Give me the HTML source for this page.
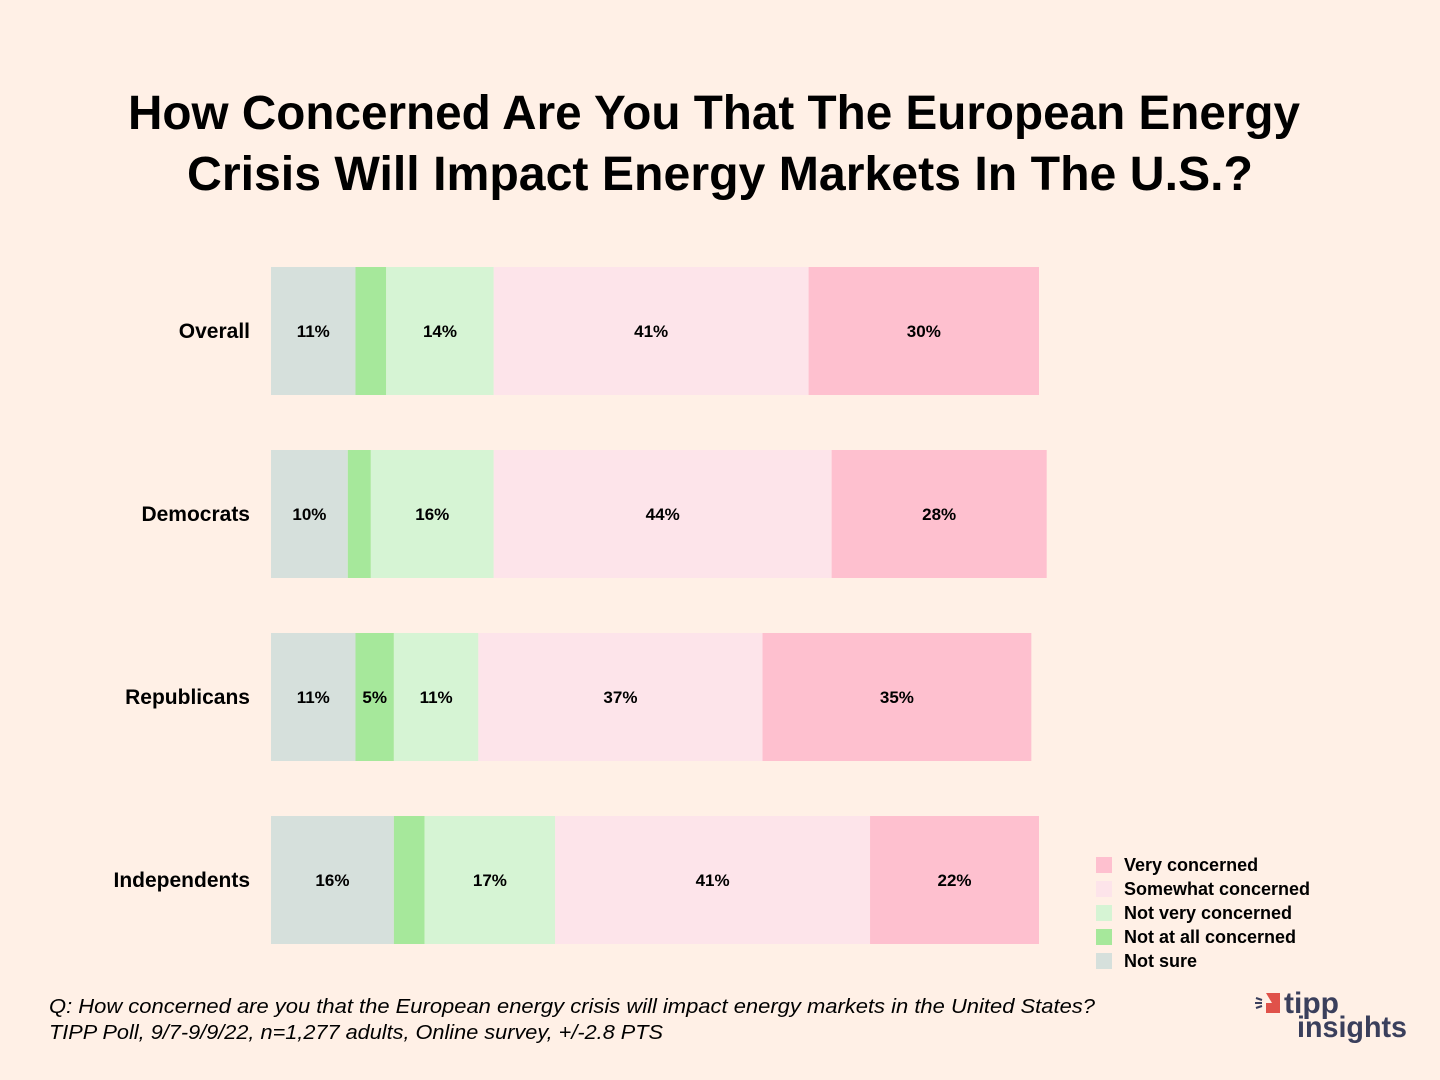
<!DOCTYPE html>
<html><head><meta charset="utf-8">
<style>
html,body{margin:0;padding:0;background:#fff0e6;}
svg{display:block;}
text{font-family:"Liberation Sans","DejaVu Sans",sans-serif;}
</style></head>
<body>
<svg id="chart" width="1440" height="1080" viewBox="0 0 1440 1080" xmlns="http://www.w3.org/2000/svg">
<rect width="1440" height="1080" fill="#fff0e6"/>
<text x="714" y="129" text-anchor="middle" font-size="48" font-weight="bold" textLength="1172" lengthAdjust="spacingAndGlyphs">How Concerned Are You That The European Energy</text>
<text x="720" y="190" text-anchor="middle" font-size="48" font-weight="bold" textLength="1066" lengthAdjust="spacingAndGlyphs">Crisis Will Impact Energy Markets In The U.S.?</text>
<g id="bars"></g>
<g id="legend"></g>
<text x="49" y="1013" font-size="20" font-style="italic" textLength="1046" lengthAdjust="spacingAndGlyphs">Q: How concerned are you that the European energy crisis will impact energy markets in the United States?</text>
<text x="49" y="1039" font-size="20" font-style="italic" textLength="614" lengthAdjust="spacingAndGlyphs">TIPP Poll, 9/7-9/9/22, n=1,277 adults, Online survey, +/-2.8 PTS</text>
<g>
  <rect x="1266" y="993" width="14" height="20" fill="#e0524a"/>
  <polygon points="1266,993 1272,1003 1266,1003" fill="#fff0e6"/>
  <line x1="1256" y1="998" x2="1262" y2="1000" stroke="#3a3f5c" stroke-width="2"/>
  <line x1="1255" y1="1003" x2="1262" y2="1003" stroke="#3a3f5c" stroke-width="2"/>
  <line x1="1256" y1="1008" x2="1262" y2="1006" stroke="#3a3f5c" stroke-width="2"/>
  <text x="1284" y="1013" font-size="30" font-weight="bold" fill="#3a3f5c">tipp</text>
  <text x="1297" y="1037" font-size="30" font-weight="bold" fill="#3a3f5c" textLength="110" lengthAdjust="spacingAndGlyphs">insights</text>
</g>
</svg>
<script>
const categories = ["Overall","Democrats","Republicans","Independents"];
const seriesNames = ["Not sure","Not at all concerned","Not very concerned","Somewhat concerned","Very concerned"];
const notSure = [11,10,11,16];
const notAtAll = [4,3,5,4];
const notVery = [14,16,11,17];
const somewhat = [41,44,37,41];
const very = [30,28,35,22];
const colors = ["#d6e0dc","#a6e89b","#d6f4d4","#fde4ea","#fec0cf"];
const series = [notSure,notAtAll,notVery,somewhat,very];
const NS="http://www.w3.org/2000/svg";
const x0=271, pxPer=7.68, y0=267, step=183, bh=128;
function xs(v){return x0+v*pxPer;}
function ys(i){return y0+i*step;}
const g=document.getElementById('bars');
categories.forEach((c,i)=>{
  const lab=document.createElementNS(NS,'text');
  
  
  lab.setAttribute('x',250);lab.setAttribute('y',ys(i)+bh/2+7);
  lab.setAttribute('text-anchor','end');lab.setAttribute('font-size','21');lab.setAttribute('font-weight','bold');
  lab.textContent=c;g.appendChild(lab);
  let cum=0;
  series.forEach((s,k)=>{
    const v=s[i];
    const r=document.createElementNS(NS,'rect');
    
    
    r.setAttribute('x',xs(cum));r.setAttribute('y',ys(i));
    r.setAttribute('width',xs(cum+v)-xs(cum));r.setAttribute('height',bh);
    r.setAttribute('fill',colors[k]);g.appendChild(r);
    if(v>=5){
      const t=document.createElementNS(NS,'text');
      
      
      t.setAttribute('x',(xs(cum)+xs(cum+v))/2);t.setAttribute('y',ys(i)+bh/2+6);
      t.setAttribute('text-anchor','middle');t.setAttribute('font-size','17');t.setAttribute('font-weight','bold');
      t.textContent=v+'%';g.appendChild(t);
    }
    cum+=v;
  });
});
const lg=document.getElementById('legend');
const order=[4,3,2,1,0];
order.forEach((k,j)=>{
  const r=document.createElementNS(NS,'rect');
  
  
  r.setAttribute('x',1096);r.setAttribute('y',857+j*24);r.setAttribute('width',16);r.setAttribute('height',16);
  r.setAttribute('fill',colors[k]);lg.appendChild(r);
  const t=document.createElementNS(NS,'text');
  
  
  t.setAttribute('x',1124);t.setAttribute('y',871+j*24);t.setAttribute('font-size','18');t.setAttribute('font-weight','bold');
  t.textContent=seriesNames[k];lg.appendChild(t);
});
</script>
</body></html>
